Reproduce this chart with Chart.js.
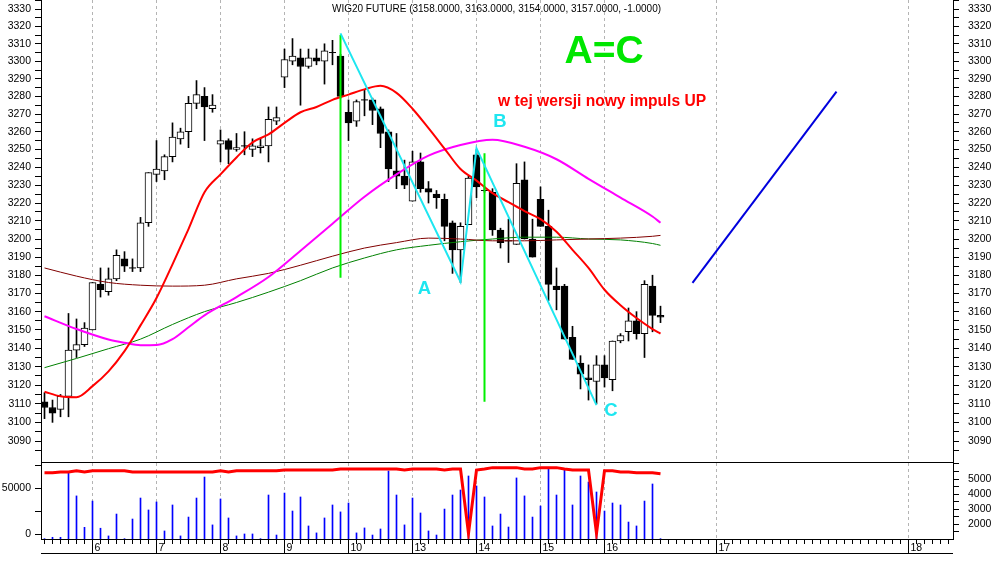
<!DOCTYPE html>
<html>
<head>
<meta charset="utf-8">
<title>WIG20 FUTURE</title>
<script src="https://cdn.jsdelivr.net/npm/chart.js@4.4.0/dist/chart.umd.min.js"></script>
<style>
  html, body { margin: 0; padding: 0; background: #fff; }
  #wrap { position: relative; width: 994px; height: 565px; overflow: hidden; }
  #priceChart { position: absolute; left: 0; top: 0; }
  #volChart { position: absolute; left: 0; top: 463px; }
</style>
</head>
<body>
<div id="wrap">
  <canvas id="priceChart" width="994" height="463"></canvas>
  <canvas id="volChart" width="994" height="102"></canvas>
</div>
<script>
// candles, one per slot (0..77)
const opens = [3111, 3108, 3107, 3114, 3139, 3142, 3150, 3175, 3171, 3178,
  3189, 3184, 3184, 3209, 3236, 3238, 3246, 3256, 3260, 3276,
  3280, 3273, 3253, 3255, 3250, 3252, 3250, 3251, 3252, 3266,
  3291, 3300, 3302, 3297, 3302, 3300, 3305, 3303, 3271, 3266,
  3278, 3278, 3273, 3260, 3238, 3235, 3221, 3243, 3228, 3225,
  3222, 3209, 3194, 3208, 3247, 3227, 3226, 3205, 3199, 3197,
  3233, 3200, 3222, 3207, 3174, 3174, 3146, 3132, 3124, 3122,
  3131, 3123, 3144, 3149, 3155, 3148, 3174, 3158];
const highs = [3116, 3112, 3115, 3159, 3156, 3154, 3176, 3184, 3184, 3194,
  3193, 3189, 3212, 3237, 3255, 3247, 3265, 3262, 3280, 3289,
  3285, 3281, 3261, 3256, 3259, 3260, 3256, 3256, 3274, 3274,
  3307, 3313, 3307, 3307, 3307, 3310, 3312, 3304, 3278, 3278,
  3284, 3279, 3274, 3261, 3259, 3244, 3249, 3248, 3232, 3227,
  3225, 3210, 3209, 3235, 3250, 3229, 3228, 3206, 3211, 3242,
  3243, 3211, 3229, 3216, 3184, 3175, 3152, 3136, 3131, 3136,
  3136, 3144, 3148, 3162, 3160, 3177, 3180, 3163];
const lows = [3102, 3100, 3103, 3103, 3135, 3141, 3150, 3168, 3169, 3177,
  3182, 3182, 3182, 3207, 3232, 3233, 3243, 3253, 3251, 3273,
  3255, 3271, 3243, 3242, 3249, 3247, 3246, 3248, 3243, 3264,
  3285, 3298, 3275, 3296, 3298, 3287, 3298, 3279, 3255, 3263,
  3269, 3264, 3251, 3232, 3228, 3228, 3221, 3226, 3220, 3217,
  3199, 3181, 3176, 3208, 3223, 3226, 3202, 3195, 3187, 3197,
  3200, 3190, 3207, 3166, 3161, 3145, 3134, 3118, 3112, 3110,
  3119, 3117, 3143, 3144, 3145, 3135, 3149, 3154];
const closes = [3108, 3105, 3114, 3139, 3142, 3151, 3176, 3172, 3178, 3191,
  3185, 3184, 3209, 3237, 3239, 3246, 3257, 3260, 3276, 3281,
  3274, 3275, 3255, 3250, 3251, 3252, 3252, 3252, 3267, 3268,
  3301, 3303, 3297, 3302, 3300, 3306, 3305, 3280, 3265, 3277,
  3278, 3272, 3259, 3239, 3235, 3230, 3243, 3228, 3226, 3223,
  3207, 3194, 3207, 3234, 3229, 3227, 3205, 3198, 3199, 3231,
  3200, 3190, 3207, 3175, 3172, 3145, 3134, 3126, 3123, 3131,
  3124, 3144, 3147, 3155, 3148, 3175, 3158, 3157];

// lower panel
const volumes = [1050, 1140, 1140, 5440, 3880, 1800, 3540, 1740, 1230, 2680,
  1050, 2350, 3740, 2950, 3480, 1560, 3280, 1230, 2480, 3740,
  5130, 1960, 3680, 2420, 1230, 1360, 1360, 1050, 3940, 1290,
  4070, 2880, 3810, 1890, 1430, 2420, 3280, 2820, 3410, 1430,
  1760, 1290, 1690, 5530, 3940, 1960, 3740, 2750, 1560, 1290,
  3010, 3940, 4270, 5200, 4540, 3810, 1890, 2680, 1820, 5070,
  3880, 2480, 3210, 5660, 3940, 5600, 3280, 5200, 4800, 4140,
  2880, 3410, 3280, 2150, 1890, 3540, 4670, 1050];
const openInterest = [67100, 67100, 67800, 67800, 69300, 67800, 69300, 69300, 69300, 69300,
  69300, 67800, 67800, 67800, 67800, 67800, 67800, 67800, 67800, 67800,
  67800, 67800, 69300, 67800, 69300, 69300, 69300, 69300, 69300, 69300,
  70000, 70000, 70000, 70000, 70000, 70000, 70000, 71100, 71100, 71100,
  71100, 71100, 71100, 71100, 71100, 70000, 71100, 71100, 71100, 71100,
  70000, 71100, 71100, 700, 70000, 71100, 72600, 72600, 72600, 72600,
  71100, 71100, 72600, 72600, 72600, 71100, 70000, 70000, 70000, 700,
  69300, 69300, 67800, 67800, 67100, 67100, 67100, 66000];

// moving averages, read at selected slots
const fastMaIdx = [0, 2, 4, 6, 8, 10, 12, 14, 16, 18, 20, 22, 24, 26, 28, 30, 32, 34, 36, 38,
  40, 42, 44, 46, 48, 50, 52, 54, 56, 58, 60, 62, 64, 66, 68, 70, 72, 74, 76, 77];
const fastMa = [3116.5, 3114, 3113.5, 3119.5, 3127.5, 3138.5, 3152.5, 3167.5, 3186, 3205.5,
  3226, 3236, 3245.5, 3254, 3258.5, 3265, 3271, 3274, 3278, 3281,
  3284, 3286, 3282, 3273, 3262, 3250.5, 3239, 3232.5, 3225.5, 3220.5,
  3215.5, 3211, 3204, 3194, 3184, 3172, 3163.5, 3156.5, 3150.5, 3148];
const midMaIdx = [0, 4, 8, 10, 12, 14, 16, 18, 20, 24, 28, 32, 36, 40, 44, 48, 52, 56, 60, 64, 68, 72, 76, 77];
const midMa = [3157.5, 3150.5, 3144.8, 3143, 3141.7, 3141.8, 3145, 3151.5, 3158, 3168, 3179,
  3193.5, 3208.5, 3223.5, 3236, 3246.5, 3252.5, 3255.5, 3251.5, 3244.5, 3233.5, 3223, 3212.5, 3209];
const slowMaIdx = [0, 4, 8, 12, 16, 20, 24, 28, 32, 36, 40, 44, 48, 52, 56, 60, 64, 68, 72, 76, 77];
const slowMaA = [3184, 3179.5, 3176, 3174.5, 3174, 3174.5, 3178, 3181, 3185.5, 3190.5, 3195,
  3198, 3200.5, 3200, 3199, 3199, 3199.5, 3200, 3200.5, 3201.5, 3202];
const slowMaB = [3129.5, 3134.5, 3139.8, 3145, 3153, 3160, 3165, 3170.7, 3177, 3184, 3189.5,
  3194, 3196.5, 3198.5, 3200, 3201, 3201, 3200, 3199.5, 3197.5, 3196.5];

// drawn lines
const waveIdx = [37, 52, 54, 69];
const waveVal = [3316, 3176.4, 3250.6, 3109.3];
const markIdx = [37, 55];
const markTop = [3315, 3247.8];
const markBottom = [3178.6, 3111.1];
const targetIdx = [81, 99];
const targetVal = [3175.8, 3282.7];

// axes
const dayTicks = [6, 14, 22, 30, 38, 46, 54, 62, 70, 84, 108];
const dayLabels = ['6', '7', '8', '9', '10', '13', '14', '15', '16', '17', '18'];
const priceLabels = [3090, 3100, 3110, 3120, 3130, 3140, 3150, 3160, 3170, 3180, 3190, 3200,
  3210, 3220, 3230, 3240, 3250, 3260, 3270, 3280, 3290, 3300, 3310, 3320, 3330];
const volLabels = [2000, 3000, 4000, 5000];
const oiLabels = [0, 50000];

const X_MIN = -0.4375, X_MAX = 113.5625;
const PRICE_MIN = 3078.8, PRICE_MAX = 3335.2;
const VOL_MIN = 1027, VOL_MAX = 6060;
const OI_MIN = -5470, OI_MAX = 77680;

const FONT = '"Liberation Sans", Arial, sans-serif';
const tickFont = { family: FONT, size: 10.5 };
const CYAN = '#1ee6f0';

const slots = opens.map((_, i) => i);
const pts = (xs, ys) => xs.map((x, k) => ({ x, y: ys[k] }));

const last = opens.length - 1;
const titleText = 'WIG20 FUTURE (' + [opens[last], highs[last], lows[last], closes[last],
  closes[last] - closes[last - 1]].map(v => v.toFixed(4)).join(', ') + ')';

const notes = [
  { text: 'A=C', at: [69.94, 3305], font: 'bold 39px ' + FONT, color: '#00e600', align: 'center' },
  { text: 'w tej wersji nowy impuls UP', at: [56.7, 3276.8], font: 'bold 15.6px ' + FONT, color: '#ff0000', align: 'left' },
  { text: 'B', at: [56.94, 3265.5], font: 'bold 18.5px ' + FONT, color: CYAN, align: 'center' },
  { text: 'A', at: [47.5, 3172.4], font: 'bold 18.5px ' + FONT, color: CYAN, align: 'center' },
  { text: 'C', at: [70.8, 3106], font: 'bold 18.5px ' + FONT, color: CYAN, align: 'center' }
];

const notesPlugin = {
  id: 'notes',
  afterDatasetsDraw(chart) {
    const { ctx, scales: { x, y } } = chart;
    ctx.save();
    ctx.textBaseline = 'middle';
    ctx.font = '10px ' + FONT;
    ctx.fillStyle = '#000';
    ctx.textAlign = 'center';
    ctx.fillText(titleText, 496.5, 9);
    notes.forEach(n => {
      ctx.font = n.font;
      ctx.fillStyle = n.color;
      ctx.textAlign = n.align;
      ctx.fillText(n.text, x.getPixelForValue(n.at[0]), y.getPixelForValue(n.at[1]));
    });
    ctx.restore();
  }
};

// long day separators under the lower panel + bottom rule
const dayRulePlugin = {
  id: 'dayRule',
  afterDraw(chart) {
    const { ctx, chartArea, scales: { x } } = chart;
    const y0 = chartArea.bottom, y1 = chartArea.bottom + 14;
    ctx.save();
    ctx.strokeStyle = '#000';
    ctx.lineWidth = 1;
    ctx.beginPath();
    dayTicks.forEach(d => {
      const px = Math.floor(x.getPixelForValue(d)) + 0.5;
      ctx.moveTo(px, y0);
      ctx.lineTo(px, y1);
    });
    ctx.moveTo(chartArea.left, y1 + 0.5);
    ctx.lineTo(chartArea.right, y1 + 0.5);
    ctx.stroke();
    ctx.restore();
  }
};

function priceAxis(position, padding) {
  return {
    type: 'logarithmic',
    position,
    min: PRICE_MIN,
    max: PRICE_MAX,
    bounds: 'data',
    beginAtZero: false,
    afterBuildTicks: s => {
      const t = [{ value: priceLabels[0] - 5 }];
      priceLabels.forEach(v => { t.push({ value: v }); t.push({ value: v + 5 }); });
      s.ticks = t.filter(k => k.value > PRICE_MIN && k.value < PRICE_MAX);
    },
    afterFit: s => { s.width = 41; s.paddingTop = 0; s.paddingBottom = 0; },
    ticks: {
      autoSkip: false, padding, font: tickFont, color: '#000',
      callback: v => priceLabels.includes(v) ? String(v) : ''
    },
    grid: { drawOnChartArea: false, tickLength: 6, tickColor: '#000' },
    border: { color: '#000' }
  };
}

function lowerAxis(position, min, max, step, labels, padding) {
  return {
    type: 'linear',
    position,
    min, max,
    bounds: 'data',
    afterBuildTicks: s => {
      const t = [];
      for (let v = Math.ceil(min / step) * step; v < max; v += step) t.push({ value: v });
      s.ticks = t;
    },
    afterFit: s => { s.width = 41; s.paddingTop = 0; s.paddingBottom = 0; },
    ticks: {
      autoSkip: false, padding, font: tickFont, color: '#000',
      callback: v => labels.includes(v) ? String(v) : ''
    },
    grid: { drawOnChartArea: false, tickLength: 6, tickColor: '#000' },
    border: { color: '#000' }
  };
}

const lineDs = (data, color, width, order) => ({
  type: 'line', data, borderColor: color, borderWidth: width,
  pointRadius: 0, pointHoverRadius: 0, order, yAxisID: 'y'
});

const bodySlots = slots.filter(i => opens[i] !== closes[i]);
const dojiSlots = slots.filter(i => opens[i] === closes[i]);

new Chart(document.getElementById('priceChart'), {
  type: 'bar',
  data: {
    datasets: [
      lineDs(pts(waveIdx, waveVal), CYAN, 2, 0),
      lineDs(pts([markIdx[0], markIdx[0]], [markTop[0], markBottom[0]]), '#00f000', 2, 0),
      lineDs(pts([markIdx[1], markIdx[1]], [markTop[1], markBottom[1]]), '#00f000', 2, 0),
      lineDs(pts(targetIdx, targetVal), '#0000dd', 2, 0),
      Object.assign(lineDs(pts(fastMaIdx, fastMa), '#ff0000', 2, 1), { cubicInterpolationMode: 'monotone' }),
      Object.assign(lineDs(pts(midMaIdx, midMa), '#ff00ff', 2, 1), { cubicInterpolationMode: 'monotone' }),
      Object.assign(lineDs(pts(slowMaIdx, slowMaA), '#800000', 1, 1), { cubicInterpolationMode: 'monotone' }),
      Object.assign(lineDs(pts(slowMaIdx, slowMaB), '#008000', 1, 1), { cubicInterpolationMode: 'monotone' }),
      {
        type: 'line', showLine: false, order: 2, yAxisID: 'y',
        data: dojiSlots.map(i => ({ x: i, y: closes[i] })),
        pointStyle: 'line', pointRadius: 3.5, pointHoverRadius: 3.5,
        pointBorderColor: '#000', pointBorderWidth: 1
      },
      {
        type: 'bar', order: 2, yAxisID: 'y', grouped: false,
        data: bodySlots.map(i => ({ x: i, y: [opens[i], closes[i]] })),
        backgroundColor: bodySlots.map(i => closes[i] > opens[i] ? '#ffffff' : '#000000'),
        borderColor: '#000', borderWidth: 1, borderSkipped: false, barThickness: 7
      },
      {
        type: 'bar', order: 3, yAxisID: 'y', grouped: false,
        data: slots.map(i => ({ x: i, y: [lows[i], highs[i]] })),
        backgroundColor: '#000', borderWidth: 0, barThickness: 1
      }
    ]
  },
  options: {
    responsive: false,
    animation: false,
    devicePixelRatio: 1,
    events: [],
    layout: { padding: 0, autoPadding: false },
    plugins: { legend: { display: false }, tooltip: { enabled: false } },
    scales: {
      x: {
        type: 'linear', min: X_MIN, max: X_MAX, bounds: 'data', offset: false,
        afterBuildTicks: s => { s.ticks = dayTicks.map(v => ({ value: v })); },
        afterFit: s => { s.height = 1; s.paddingLeft = 0; s.paddingRight = 0; },
        ticks: { display: false },
        grid: { color: '#b4b4b4', drawTicks: false, offset: false },
        border: { color: '#000', dash: [3, 3] }
      },
      y: priceAxis('left', 4),
      y2: priceAxis('right', 9)
    }
  },
  plugins: [notesPlugin]
});

const slotTicks = [];
for (let v = 0; v <= Math.floor(X_MAX); v++) slotTicks.push(v);

new Chart(document.getElementById('volChart'), {
  type: 'bar',
  data: {
    datasets: [
      {
        type: 'line', order: 0, yAxisID: 'yOi',
        data: pts(slots, openInterest),
        borderColor: '#ff0000', borderWidth: 3, pointRadius: 0, pointHoverRadius: 0, tension: 0
      },
      {
        type: 'bar', order: 1, yAxisID: 'yVol', grouped: false,
        data: pts(slots, volumes),
        backgroundColor: '#0000ff', borderWidth: 0, barThickness: 1
      }
    ]
  },
  options: {
    responsive: false,
    animation: false,
    devicePixelRatio: 1,
    events: [],
    layout: { padding: 0, autoPadding: false },
    plugins: { legend: { display: false }, tooltip: { enabled: false } },
    scales: {
      x: {
        type: 'linear', min: X_MIN, max: X_MAX, bounds: 'data', offset: false,
        afterBuildTicks: s => { s.ticks = slotTicks.map(v => ({ value: v })); },
        afterFit: s => { s.height = 26; s.paddingLeft = 0; s.paddingRight = 0; },
        ticks: {
          autoSkip: false, maxRotation: 0, minRotation: 0, align: 'start',
          labelOffset: 2, padding: -2, font: tickFont, color: '#000',
          callback: v => { const k = dayTicks.indexOf(v); return k >= 0 ? dayLabels[k] : ''; }
        },
        grid: {
          color: c => (c.tick && dayTicks.includes(c.tick.value)) ? '#b4b4b4' : 'rgba(0,0,0,0)',
          tickColor: '#000', tickLength: 5, offset: false
        },
        border: { color: '#000', dash: [3, 3] }
      },
      yOi: lowerAxis('left', OI_MIN, OI_MAX, 25000, oiLabels, 4),
      yVol: lowerAxis('right', VOL_MIN, VOL_MAX, 500, volLabels, 9)
    }
  },
  plugins: [dayRulePlugin]
});
</script>
</body>
</html>
